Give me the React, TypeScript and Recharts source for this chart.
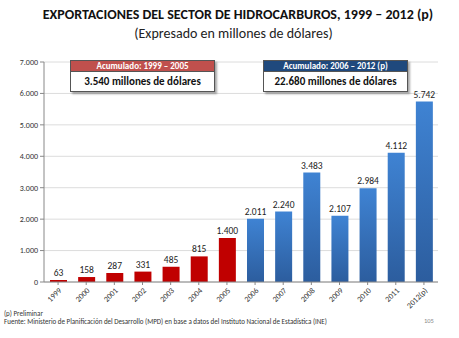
import React from 'react';
import { BarChart, Bar, XAxis, YAxis, CartesianGrid, LabelList, Cell } from 'recharts';

const years = ['1999', '2000', '2001', '2002', '2003', '2004', '2005', '2006', '2007', '2008', '2009', '2010', '2011', '2012(p)'];
const exports = [63, 158, 287, 331, 485, 815, 1400, 2011, 2240, 3483, 2107, 2984, 4112, 5742];
const yTicks = [0, 1000, 2000, 3000, 4000, 5000, 6000, 7000];

const data = years.map((year, i) => ({ year, value: exports[i] }));

const fmt = (v: number) => v.toLocaleString('de-DE');
const font = 'Carlito, "Open Sans", "Noto Sans", sans-serif';

const SumBox = ({ left, head, headColor, body }: { left: number; head: string; headColor: string; body: string }) => (
  <div style={{ position: 'absolute', left, top: 60, width: 143, border: '1px solid #555', background: '#fff', boxShadow: '2px 2px 2px rgba(0,0,0,0.35)' }}>
    <div style={{ background: headColor, color: '#fff', fontSize: 9, fontWeight: 'bold', textAlign: 'center', height: 10, lineHeight: '10px' }}>{head}</div>
    <div style={{ borderTop: '1px solid #555', color: '#111', fontSize: 11, fontWeight: 'bold', textAlign: 'center', height: 19, lineHeight: '19px' }}>{body}</div>
  </div>
);

const App = () => {
  return <div style={{ position: 'absolute', left: 0, top: 0, width: 459, height: 338, background: '#fff', fontFamily: font, overflow: 'hidden' }}>
      <div style={{ position: 'absolute', left: 0, width: 476, top: 6, textAlign: 'center', fontSize: 14, fontWeight: 'bold', color: '#111' }}>
        EXPORTACIONES DEL SECTOR DE HIDROCARBUROS, 1999 – 2012 (p)
      </div>
      <div style={{ position: 'absolute', left: 0, width: 467, top: 25, textAlign: 'center', fontSize: 14, color: '#222' }}>
        (Expresado en millones de dólares)
      </div>
      <BarChart width={459} height={338} data={data} margin={{ top: 62, right: 21, left: 4, bottom: 26 }} barSize={17}>
        <defs>
          <linearGradient id="blueBar" x1="0" y1="0" x2="0" y2="1">
            <stop offset="0%" stopColor="#3f83d3" />
            <stop offset="100%" stopColor="#2c5d9e" />
          </linearGradient>
        </defs>
        <CartesianGrid vertical={false} stroke="#dcdcdc" />
        <YAxis width={40} domain={[0, 7000]} ticks={yTicks} tickFormatter={fmt} interval={0}
          tick={{ fontSize: 8, fill: '#333', fontFamily: font }} axisLine={{ stroke: '#888' }} tickLine={{ stroke: '#888' }} tickSize={4} />
        <XAxis dataKey="year" height={30} interval={0} angle={-45} textAnchor="end"
          tick={{ fontSize: 8, fill: '#333', fontFamily: font }} axisLine={{ stroke: '#888' }} tickLine={{ stroke: '#888' }} tickSize={3} />
        <Bar dataKey="value" isAnimationActive={false}>
          {data.map((d, i) => <Cell key={d.year} fill={i < 7 ? '#c00000' : 'url(#blueBar)'} />)}
          <LabelList dataKey="value" position="top" formatter={(v: any) => fmt(Number(v))} style={{ fontSize: 9.5, fill: '#222', fontFamily: font }} offset={4} />
        </Bar>
      </BarChart>
      <SumBox left={70} head="Acumulado: 1999 – 2005" headColor="#c0504d" body="3.540 millones de dólares" />
      <SumBox left={263} head="Acumulado: 2006 – 2012 (p)" headColor="#1f497d" body="22.680 millones de dólares" />
      <div style={{ position: 'absolute', left: 4, top: 310, fontSize: 7, color: '#333', lineHeight: '7.5px' }}>
        <div>(p) Preliminar</div>
        <div>Fuente: Ministerio de Planificación del Desarrollo (MPD) en base a datos del Instituto Nacional de Estadística (INE)</div>
      </div>
      <div style={{ position: 'absolute', left: 424, top: 317, fontSize: 6.5, color: '#888' }}>105</div>
    </div>;
};

export default App;
